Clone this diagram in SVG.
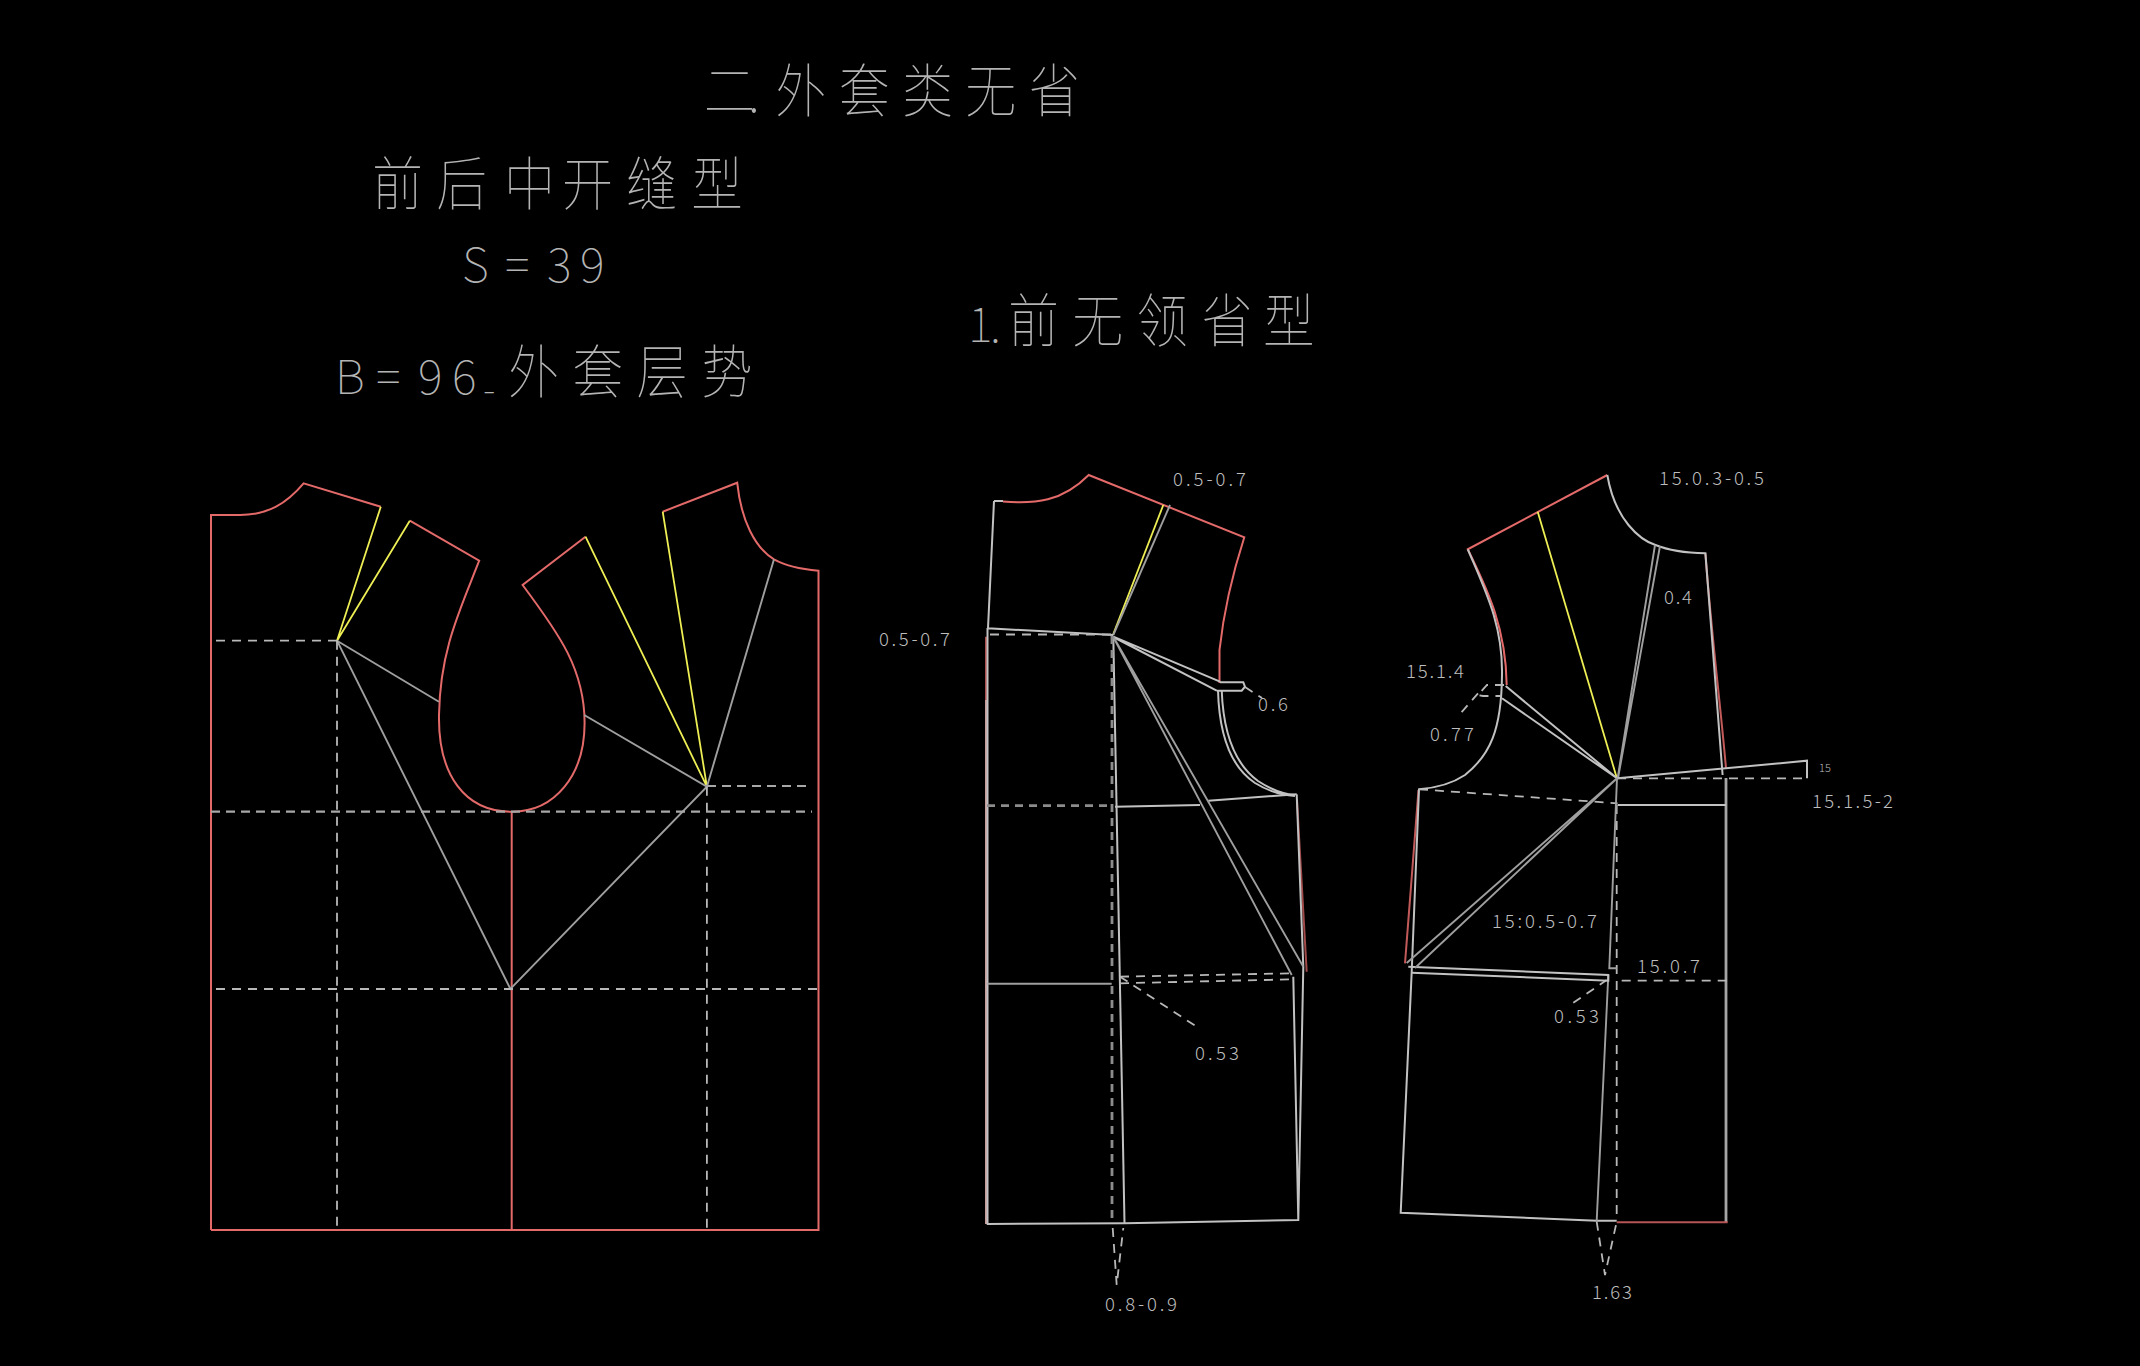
<svg xmlns="http://www.w3.org/2000/svg" width="2140" height="1366" viewBox="0 0 2140 1366">
<style>
.r{fill:none;stroke:#e46a6a;stroke-width:2}
.y{fill:none;stroke:#eeee55;stroke-width:1.8}
.g{fill:none;stroke:#9f9f9f;stroke-width:1.9}
.w{fill:none;stroke:#c2c2c2;stroke-width:2}
.p{fill:none;stroke:#c99a9a;stroke-width:2}
.t{fill:none;stroke:#a5a5a5;stroke-width:2.8}
.d{fill:none;stroke:#a8a8a8;stroke-width:2.2;stroke-dasharray:9 6}
.dt{fill:none;stroke:#8c8c8c;stroke-width:2.8;stroke-dasharray:8 6}
.ds{fill:none;stroke:#b8b8b8;stroke-width:1.8;stroke-dasharray:9 7}
.h{font-family:"Noto Sans CJK SC","Liberation Sans",sans-serif;font-weight:100;font-size:58px;fill:#b4b4b4}
.l{font-family:"Noto Sans CJK SC","Liberation Sans",sans-serif;font-weight:100;font-size:47px;fill:#b4b4b4}
.n{font-family:"Noto Sans CJK SC","Liberation Sans",sans-serif;font-weight:300;font-size:18.5px;fill:#bdbdbd}
</style>
<rect width="2140" height="1366" fill="#000"/>
<g id="titles">
<text class="h" transform="translate(704,112) scale(.88,1)" x="0 50 81 153 225 297 369">二.外套类无省</text>
<text class="h" transform="translate(372,205) scale(.88,1)" x="0 73 150 216 289 363">前后中开缝型</text>
<text class="l" x="462 505 547 580" y="282">S=39</text>
<text class="h" transform="translate(1008,342) scale(.88,1)" x="0 73 146 220 290">前无领省型</text>
<text class="l" x="968 990" y="342">1.</text>
<text class="l" x="335 376 418 452" y="394">B=96</text>
<text class="l" x="483" y="403" style="font-size:38px">-</text>
<text class="h" transform="translate(508,393) scale(.88,1)" x="0 73 146 220">外套层势</text>
</g>
<g id="base-draft">
<path class="r" d="M211 1230V515H240C268 515 287 503 303.6 483.3L380.8 506.7"/>
<path class="r" d="M409.8 520.7L479.2 560.7C460 610 440 650 439 715C438 775 465 812 511.7 811.7C555 812 584.6 775 584.6 723C584.6 670 560 635 522.6 585L585.5 536.7"/>
<path class="r" d="M662.7 511.7L737.2 482.7C741 520 755 548 774 559.3C786 566 800 569 818.5 570.7V1230H211"/>
<path class="r" d="M511.7 811.7V1230"/>
<path class="y" d="M380.8 506.7L337 640.7L409.8 520.7M585.5 536.7L706.9 786.7L662.7 511.7"/>
<path class="g" d="M774 559.3L706.9 786.7M337 640.7L438.9 701.7M584.2 715L706.9 786.7L510.4 989L337 640.7"/>
<path class="ds" d="M216 640.7H337M337 640.7V1228M706.9 786.7V1228M216 989H819"/>
<path class="d" d="M211 811.7H812M707 786H812"/>
</g>
<g id="front-piece">
<path class="r" d="M1003 501.6C1035 504 1062 502 1088.7 475L1244.3 537.3C1236 563 1225 600 1219.5 650V683"/>
<path class="p" d="M986 700V1224"/>
<path class="r" d="M986 636.7V700" opacity=".75"/>
<path class="r" d="M1297 800L1306.7 971.7" opacity=".7"/>
<path class="y" d="M1163.3 505L1113.3 634"/>
<path class="g" d="M1170 505L1113.3 635"/>
<path class="w" d="M994 501L988 628.3L1113.3 635M987.5 628V1224H986.7L1125 1223.3L1298.3 1220L1303.3 966.7M1296.7 794.3L1303.3 966.7M1293.3 976.7L1298.3 1220M994 501H1003"/>
<path class="w" d="M1113.3 636.7L1124.5 1223"/>
<path class="w" d="M1113.3 636.7L1220 681.7M1113.3 637L1216.7 690.7M1220 682.3H1243.3L1245 686.7L1241.7 690.7H1216.7"/>
<path class="w" d="M1218 690C1219 730 1228 765 1255 783C1268 791 1280 795 1295 796M1221.7 690C1223 727 1232 762 1258 781C1270 789 1282 794 1295 795"/>
<path class="w" d="M1115 806.7L1200 805M1208.3 800.7L1296.7 794.3"/>
<path class="g" d="M1113.3 637L1291.7 975M1113.3 636.7L1303.3 966.7"/>
<path class="dt" d="M1112 636V1220"/>
<path class="ds" d="M990 634.5H1113"/>
<path class="dt" d="M987 805.7H1110"/>
<path class="g" stroke-width="2.6" d="M987.3 983.7H1111.7"/>
<path class="ds" d="M1120 976.7L1293.3 973.3M1120 983.3L1293.3 979.3"/>
<path class="ds" d="M1120 976.7L1196.7 1026.7M1245 687L1262 698M1112.7 1228L1116.7 1285L1123.3 1228"/>
</g>
<g id="back-piece">
<path class="r" d="M1607.3 475L1467.8 549.3C1485 585 1506 625 1506.7 685"/>
<path class="r" d="M1705.4 553.3C1712 640 1720 700 1726 768.3M1418.5 790L1405 963.3" opacity=".85"/>
<path class="y" d="M1537.7 511.7L1616.9 778.3"/>
<path class="w" d="M1607.3 475C1615 520 1640 540 1655.5 545C1670 551 1690 553 1705.4 553.3L1722.6 775"/>
<path class="w" d="M1467.8 549.3C1485 590 1503 625 1502 675C1501.5 730 1490 755 1465 775C1450 785 1435 788 1419 789.3L1411.7 971.7L1400.7 1212.7L1596.7 1220.7H1616.7"/>
<path class="t" d="M1726 778V1221.7"/>
<path class="r" d="M1616.7 1222.3H1727.7" opacity=".8"/>
<path class="w" d="M1505.7 686L1617 778.3M1502 698.3L1617 778.3"/>
<path class="g" d="M1655 545L1617.6 778.3M1660 546L1618 778.3"/>
<path class="w" d="M1617.6 778.3L1807 760.7V778.3M1617.6 805H1726"/>
<path class="ds" d="M1617 778.3H1807M1419 789.3L1617.6 803.3M1504 685H1487L1478 695L1483 696H1500.5M1478 693.3L1459.2 715M1573.3 1002.7L1606.7 980M1616.7 805V1221M1621.7 980.7H1726.7M1596.7 1221.7L1605 1275L1616.7 1221.7"/>
<path class="g" d="M1617 778L1609.3 968.3H1616.7M1608.3 975L1596.7 1220.7"/>
<path class="w" d="M1408.3 966.7L1608.3 975V980.7L1411.7 972.7"/>
<path class="g" d="M1406.7 963L1617 778.3M1415 968L1617 778.3"/>
</g>
<g id="labels">
<text class="n" x="1173" y="486" textLength="73">0.5-0.7</text>
<text class="n" x="879" y="646" textLength="71">0.5-0.7</text>
<text class="n" x="1258" y="711" textLength="30">0.6</text>
<text class="n" x="1195" y="1060" textLength="44">0.53</text>
<text class="n" x="1105" y="1311" textLength="72">0.8-0.9</text>
<text class="n" x="1659" y="485" textLength="105">15.0.3-0.5</text>
<text class="n" x="1664" y="604" textLength="28">0.4</text>
<text class="n" x="1406" y="678" textLength="58">15.1.4</text>
<text class="n" x="1430" y="741" textLength="44">0.77</text>
<text class="n" x="1819" y="772" style="font-size:11px">15</text>
<text class="n" x="1812" y="808" textLength="81">15.1.5-2</text>
<text class="n" x="1492" y="928" textLength="105">15:0.5-0.7</text>
<text class="n" x="1637" y="973" textLength="63">15.0.7</text>
<text class="n" x="1554" y="1023" textLength="45">0.53</text>
<text class="n" x="1592" y="1299" textLength="40">1.63</text>
</g>
</svg>
